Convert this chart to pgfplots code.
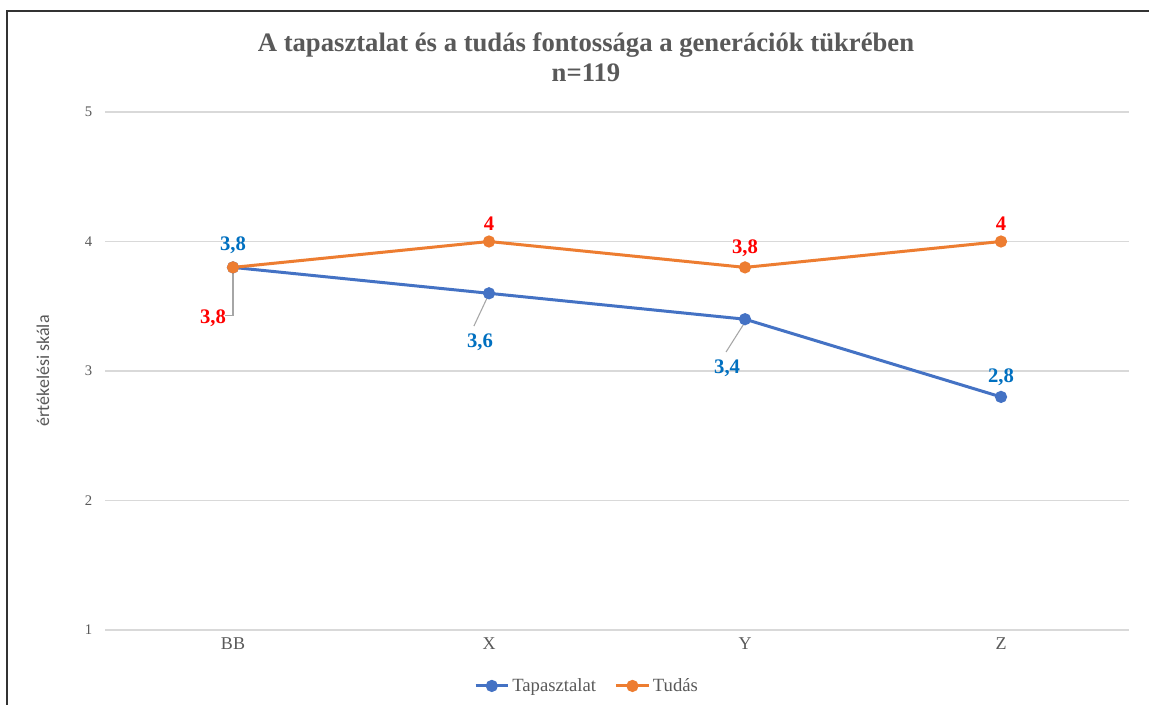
\documentclass[border=0pt]{standalone}
\usepackage{pgfplots}
\pgfplotsset{compat=1.18}
\usepackage{fontspec}
\setmainfont{Liberation Serif}
\newfontfamily\carlito{Carlito}
\definecolor{cblue}{HTML}{4472C4}
\definecolor{corange}{HTML}{ED7D31}
\definecolor{lblue}{HTML}{0070C0}
\definecolor{lred}{HTML}{FF0000}
\definecolor{txtgray}{HTML}{595959}
\definecolor{gridgray}{HTML}{D9D9D9}
\definecolor{leader}{HTML}{A6A6A6}
\begin{document}
\begin{tikzpicture}
\useasboundingbox (0,0) rectangle (864.75pt,-528.75pt);
\fill[white] (0,0) rectangle (864.75pt,-528.75pt);
\draw[line width=1.5pt, black!80] (5.6pt,-528.75pt) -- (5.6pt,-7.9pt) -- (862pt,-7.9pt);
\node[align=center, text=txtgray, font=\fontsize{20}{22.5}\selectfont\bfseries] at (439.5pt,-42.75pt) {A tapasztalat és a tudás fontossága a generációk tükrében\\n=119};
\begin{axis}[
  at={(78.75pt,-472.5pt)}, anchor=south west,
  scale only axis, width=768pt, height=388.5pt,
  xmin=-0.5, xmax=3.5, ymin=1, ymax=5,
  xtick={0,1,2,3}, xticklabels={BB,X,Y,Z},
  ytick={1,2,3,4,5},
  /pgf/number format/assume math mode=true,
  axis line style={draw=none},
  major tick style={draw=none},
  ymajorgrids, grid style={gridgray, line width=1.1pt},
  ticklabel style={text=txtgray},
  xticklabel style={font=\fontsize{13.5}{15}\selectfont, yshift=-2pt},
  yticklabel style={font=\fontsize{11}{13}\selectfont, xshift=-6pt},
  ylabel={értékelési skála},
  ylabel style={at={(axis description cs:-0.0605,0.5)}, anchor=center, font=\carlito\fontsize{13.5}{15}\selectfont, text=txtgray},
  clip=false,
  legend columns=2,
  legend style={at={(axis description cs:0.471,-0.108)}, anchor=center, draw=none, fill=none,
    font=\fontsize{14}{16}\selectfont, text=txtgray, /tikz/every even column/.append style={column sep=12pt}},
  legend image code/.code={\draw[mark repeat=2,mark phase=2] plot coordinates {(0cm,0cm)(0.43cm,0cm)(0.86cm,0cm)};},
]
\addplot[cblue, line width=2.25pt, mark=*, mark size=3.4pt, mark options={fill=cblue, draw=cblue}] coordinates {(0,3.8) (1,3.6) (2,3.4) (3,2.8)};
\addlegendentry{Tapasztalat}
\addplot[corange, line width=2.25pt, mark=*, mark size=3.4pt, mark options={fill=corange, draw=corange}] coordinates {(0,3.8) (1,4) (2,3.8) (3,4)};
\addlegendentry{Tudás}
% leader lines
\draw[leader, line width=0.8pt] (axis cs:0,3.8) -- (axis cs:0,3.425) -- (axis cs:-0.031,3.425);
\draw[leader, line width=0.8pt] (axis cs:0.996,3.579) -- (axis cs:0.941,3.347);
\draw[leader, line width=0.8pt] (axis cs:2.0,3.378) -- (axis cs:1.926,3.147);
% data labels
\begin{scope}[every node/.style={font=\fontsize{15.5}{17}\selectfont\bfseries}]
\node[text=lblue] at (axis cs:0,3.973) {3,8};
\node[text=lblue] at (axis cs:0.965,3.224) {3,6};
\node[text=lblue] at (axis cs:1.93,3.023) {3,4};
\node[text=lblue] at (axis cs:3,2.954) {2,8};
\node[text=lred] at (axis cs:-0.078,3.409) {3,8};
\node[text=lred] at (axis cs:1,4.135) {4};
\node[text=lred] at (axis cs:2,3.95) {3,8};
\node[text=lred] at (axis cs:3,4.135) {4};
\end{scope}
\end{axis}
\end{tikzpicture}
\end{document}
